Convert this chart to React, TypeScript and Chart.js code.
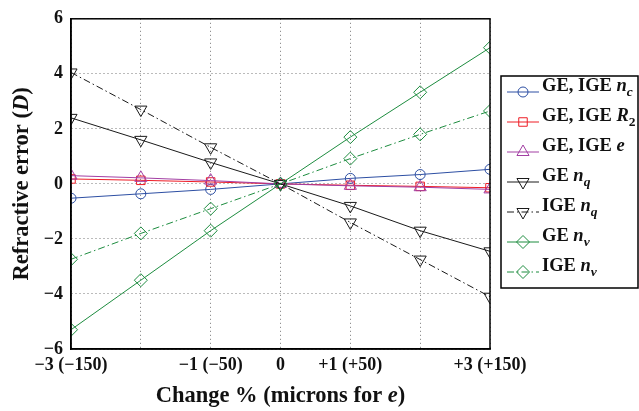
import React, { useEffect, useRef } from 'react';
import { Chart, registerables } from 'chart.js';
Chart.register(...registerables);

const xValues = [-3, -2, -1, 0, 1, 2, 3];
const xTickLabels: Record<string, string> = {
  '-3': '\u22123 (\u2212150)',
  '-1': '\u22121 (\u221250)',
  '0': '0',
  '1': '+1 (+50)',
  '3': '+3 (+150)',
};
const ncValues = [-0.52, -0.36, -0.2, 0, 0.2, 0.34, 0.53];
const r2Values = [0.18, 0.13, 0.07, 0, -0.05, -0.09, -0.14];
const eValues = [0.3, 0.22, 0.12, 0, -0.07, -0.12, -0.2];
const geNqValues = [2.4, 1.6, 0.78, 0, -0.8, -1.7, -2.45];
const igeNqValues = [4.05, 2.7, 1.33, 0, -1.4, -2.75, -4.1];
const geNvValues = [-5.3, -3.5, -1.7, 0, 1.7, 3.33, 4.95];
const igeNvValues = [-2.74, -1.8, -0.9, 0, 0.92, 1.8, 2.65];

type Part = { t: string; it?: boolean; sub?: boolean };
const legendNc: Part[] = [{ t: 'GE, IGE ' }, { t: 'n', it: true }, { t: 'c', it: true, sub: true }];
const legendR2: Part[] = [{ t: 'GE, IGE ' }, { t: 'R', it: true }, { t: '2', sub: true }];
const legendE: Part[] = [{ t: 'GE, IGE ' }, { t: 'e', it: true }];
const legendGeNq: Part[] = [{ t: 'GE ' }, { t: 'n', it: true }, { t: 'q', it: true, sub: true }];
const legendIgeNq: Part[] = [{ t: 'IGE ' }, { t: 'n', it: true }, { t: 'q', it: true, sub: true }];
const legendGeNv: Part[] = [{ t: 'GE ' }, { t: 'n', it: true }, { t: 'v', it: true, sub: true }];
const legendIgeNv: Part[] = [{ t: 'IGE ' }, { t: 'n', it: true }, { t: 'v', it: true, sub: true }];
const yTitle: Part[] = [{ t: 'Refractive error (' }, { t: 'D', it: true }, { t: ')' }];
const xTitle: Part[] = [{ t: 'Change % (microns for ' }, { t: 'e', it: true }, { t: ')' }];

const BLUE = '#2d4fa3';
const RED = '#ee1c25';
const MAGENTA = '#a23ea3';
const BLACK = '#1a1a1a';
const GREEN = '#1d8c3f';
const SERIF = '"Liberation Serif", "Times New Roman", serif';
const DASHDOT = [7, 3, 1.5, 3];

const series = [
  { data: ncValues, color: BLUE, style: 'circle', rot: 0, r: 5, dash: [] as number[], legend: legendNc },
  { data: r2Values, color: RED, style: 'rect', rot: 0, r: 6, dash: [], legend: legendR2 },
  { data: eValues, color: MAGENTA, style: 'triangle', rot: 0, r: 7, dash: [], legend: legendE },
  { data: geNqValues, color: BLACK, style: 'triangle', rot: 180, r: 7, dash: [], legend: legendGeNq },
  { data: igeNqValues, color: BLACK, style: 'triangle', rot: 180, r: 7, dash: DASHDOT, legend: legendIgeNq },
  { data: geNvValues, color: GREEN, style: 'rectRot', rot: 0, r: 6.5, dash: [], legend: legendGeNv },
  { data: igeNvValues, color: GREEN, style: 'rectRot', rot: 0, r: 6.5, dash: DASHDOT, legend: legendIgeNv },
];

function drawMarker(ctx: CanvasRenderingContext2D, style: string, rot: number, r: number, x: number, y: number) {
  ctx.beginPath();
  if (style === 'circle') {
    ctx.arc(x, y, r, 0, Math.PI * 2);
  } else if (style === 'rect') {
    const s = r * Math.SQRT1_2;
    ctx.rect(x - s, y - s, 2 * s, 2 * s);
  } else if (style === 'rectRot') {
    ctx.moveTo(x, y - r);
    ctx.lineTo(x + r, y);
    ctx.lineTo(x, y + r);
    ctx.lineTo(x - r, y);
    ctx.closePath();
  } else if (style === 'triangle') {
    const base = (rot * Math.PI) / 180;
    for (let k = 0; k < 3; k++) {
      const ang = base - Math.PI / 2 + (k * 2 * Math.PI) / 3;
      const px = x + Math.cos(ang) * r;
      const py = y + Math.sin(ang) * r;
      if (k === 0) ctx.moveTo(px, py);
      else ctx.lineTo(px, py);
    }
    ctx.closePath();
  }
  ctx.stroke();
}

function partsWidth(ctx: CanvasRenderingContext2D, parts: Part[], size: number, subSize: number) {
  let w = 0;
  for (const p of parts) {
    ctx.font = `${p.it ? 'italic ' : ''}bold ${p.sub ? subSize : size}px ${SERIF}`;
    w += ctx.measureText(p.t).width;
  }
  return w;
}
function drawParts(ctx: CanvasRenderingContext2D, parts: Part[], x: number, y: number, size: number, subSize: number, subOff: number) {
  ctx.textAlign = 'left';
  ctx.textBaseline = 'alphabetic';
  let cx = x;
  for (const p of parts) {
    ctx.font = `${p.it ? 'italic ' : ''}bold ${p.sub ? subSize : size}px ${SERIF}`;
    ctx.fillText(p.t, cx, y + (p.sub ? subOff : 0));
    cx += ctx.measureText(p.t).width;
  }
}

const extrasPlugin = {
  id: 'extras',
  afterDraw(chart: any) {
    const ctx: CanvasRenderingContext2D = chart.ctx;
    const a = chart.chartArea;
    ctx.save();
    ctx.strokeStyle = '#000';
    ctx.lineWidth = 1.5;
    ctx.setLineDash([]);
    ctx.strokeRect(a.left, a.top, a.right - a.left, a.bottom - a.top);
    ctx.fillStyle = '#111';
    const xs = 22.5;
    const xw = partsWidth(ctx, xTitle, xs, xs);
    drawParts(ctx, xTitle, (a.left + a.right) / 2 - xw / 2, 402, xs, xs, 0);
    ctx.save();
    ctx.translate(28, (a.top + a.bottom) / 2);
    ctx.rotate(-Math.PI / 2);
    const yw = partsWidth(ctx, yTitle, xs, xs);
    drawParts(ctx, yTitle, -yw / 2, 0, xs, xs, 0);
    ctx.restore();
    const lx = 501, ly = 76, lw = 137, lh = 212;
    ctx.fillStyle = '#fff';
    ctx.fillRect(lx, ly, lw, lh);
    ctx.strokeStyle = '#000';
    ctx.lineWidth = 1.5;
    ctx.strokeRect(lx, ly, lw, lh);
    series.forEach((s, i) => {
      const y = 92 + i * 30;
      ctx.strokeStyle = s.color;
      ctx.lineWidth = 1;
      ctx.setLineDash(s.dash);
      ctx.beginPath();
      ctx.moveTo(507, y);
      ctx.lineTo(539, y);
      ctx.stroke();
      ctx.setLineDash([]);
      drawMarker(ctx, s.style, s.rot, s.r, 523, y);
      ctx.fillStyle = '#111';
      drawParts(ctx, s.legend, 542, y - 1, 18.5, 13.5, 5);
    });
    ctx.restore();
  },
};

export default function App() {
  const ref = useRef<HTMLCanvasElement>(null);
  useEffect(() => {
    if (!ref.current) return;
    const chart = new Chart(ref.current, {
      type: 'line',
      data: {
        datasets: series.map((s, i) => ({
          label: 'series' + i,
          data: xValues.map((x, j) => ({ x, y: s.data[j] })),
          borderColor: s.color,
          borderWidth: 1,
          borderDash: s.dash,
          pointStyle: s.style as any,
          pointRotation: s.rot,
          pointRadius: s.r,
          pointBorderColor: s.color,
          pointBackgroundColor: 'rgba(0,0,0,0)',
          pointBorderWidth: 1,
          fill: false,
          tension: 0,
          order: 10 - i,
        })),
      },
      options: {
        responsive: false,
        animation: false,
        layout: { padding: { top: 12, right: 149, left: 0, bottom: 0 } },
        plugins: { legend: { display: false }, tooltip: { enabled: false } },
        scales: {
          x: {
            type: 'linear',
            min: -3,
            max: 3,
            afterFit: (ax: any) => { ax.height = 62; },
            ticks: {
              stepSize: 1,
              padding: 6,
              maxRotation: 0,
              autoSkip: false,
              color: '#111',
              font: { family: SERIF, size: 18, weight: 'bold' },
              callback: (v: any) => xTickLabels[String(v)] ?? '',
            },
            grid: { color: '#777', lineWidth: 1, drawTicks: false },
            border: { color: '#000', width: 1.5, dash: [1, 3] },
          },
          y: {
            type: 'linear',
            min: -6,
            max: 6,
            afterFit: (ax: any) => { ax.width = 71; },
            ticks: {
              stepSize: 2,
              padding: 8,
              color: '#111',
              font: { family: SERIF, size: 18, weight: 'bold' },
              callback: (v: any) => (v < 0 ? '\u2212' + Math.abs(v) : String(v)),
            },
            grid: { color: '#777', lineWidth: 1, drawTicks: false },
            border: { color: '#000', width: 1.5, dash: [1, 3] },
          },
        },
      } as any,
      plugins: [extrasPlugin],
    });
    return () => chart.destroy();
  }, []);
  return (
    <div style={{ position: 'absolute', left: 0, top: 0, width: 639, height: 411, background: '#fff' }}>
      <canvas ref={ref} width={639} height={411} />
    </div>
  );
}
